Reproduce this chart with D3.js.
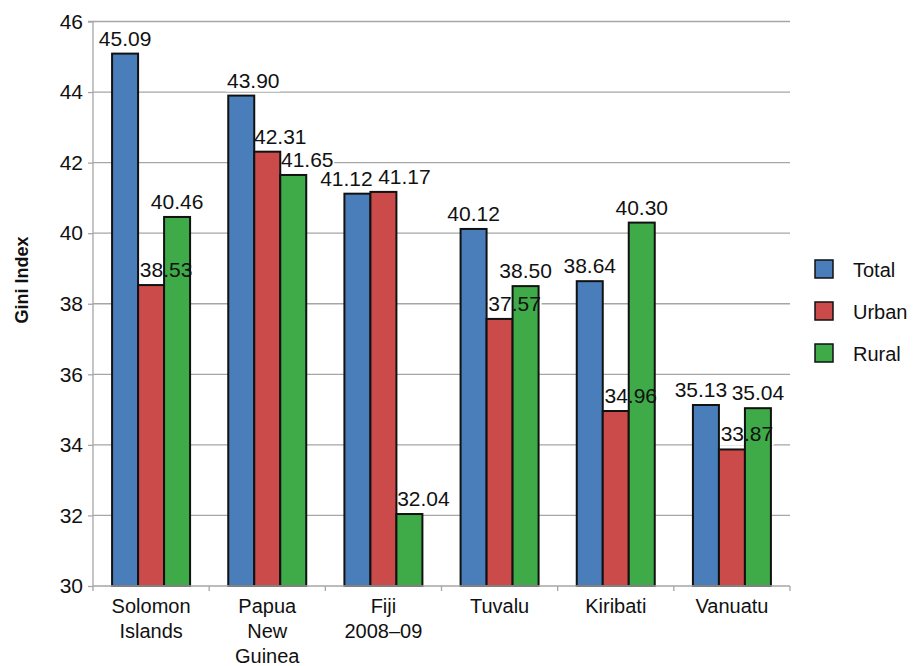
<!DOCTYPE html>
<html>
<head>
<meta charset="utf-8">
<script src="https://cdn.jsdelivr.net/npm/d3@7/dist/d3.min.js"></script>
<style>
  html, body { margin: 0; padding: 0; background: #fff; }
  svg { display: block; font-family: "Liberation Sans", Arial, Helvetica, sans-serif; }
</style>
</head>
<body>
<svg id="chart" width="914" height="666"></svg>
<script>
// Gini index by country, split into total / urban / rural
const categories = [
  ["Solomon", "Islands"],
  ["Papua", "New", "Guinea"],
  ["Fiji", "2008\u201309"],
  ["Tuvalu"],
  ["Kiribati"],
  ["Vanuatu"]
];
const seriesNames = ["Total", "Urban", "Rural"];
const totalValues = [45.09, 43.90, 41.12, 40.12, 38.64, 35.13];
const urbanValues = [38.53, 42.31, 41.17, 37.57, 34.96, 33.87];
const ruralValues = [40.46, 41.65, 32.04, 38.50, 40.30, 35.04];
const yTicks = [30, 32, 34, 36, 38, 40, 42, 44, 46];

// horizontal nudges that keep neighbouring value labels apart
const labelNudge = {
  Total: [0, 12, -11, 0, 0, -5],
  Urban: [15, 13, 21, 15, 15, 15],
  Rural: [0, 14, 14, 0, 0, 0]
};

const colors = { Total: "#4a7ebb", Urban: "#cb4b4a", Rural: "#3eab48" };
const valuesBySeries = { Total: totalValues, Urban: urbanValues, Rural: ruralValues };

const svg = d3.select("#chart");
const plot = { left: 93, right: 790, top: 21.5, bottom: 586 };

const keys = categories.map(c => c.join(" "));
const x0 = d3.scaleBand().domain(keys).range([plot.left, plot.right]).paddingInner(0).paddingOuter(0);
const x1 = d3.scaleBand().domain(seriesNames).range([0, x0.bandwidth()]).paddingInner(0).paddingOuter(0.734);
const y = d3.scaleLinear().domain([30, 46]).range([plot.bottom, plot.top]);

const grey = "#a6a6a6";

// gridlines
svg.append("g")
  .selectAll("line")
  .data(yTicks.filter(t => t !== 30))
  .join("line")
  .attr("x1", plot.left).attr("x2", plot.right)
  .attr("y1", d => y(d)).attr("y2", d => y(d))
  .attr("stroke", grey).attr("stroke-width", 1.3);

// flattened records for bars and labels
const records = [];
keys.forEach((k, i) => {
  seriesNames.forEach(s => {
    records.push({ key: k, i, series: s, value: valuesBySeries[s][i] });
  });
});

const fontSize = 21;
const labelX = d => x0(d.key) + x1(d.series) + x1.bandwidth() / 2 + labelNudge[d.series][d.i];
const labelY = d => y(d.value) - 8;

// white backing boxes behind the value labels (hide the gridlines)
svg.append("g")
  .selectAll("rect")
  .data(records)
  .join("rect")
  .attr("x", d => labelX(d) - 27)
  .attr("y", d => labelY(d) - 16)
  .attr("width", 54)
  .attr("height", 20)
  .attr("fill", "#fff");

// bars
svg.append("g")
  .selectAll("rect")
  .data(records)
  .join("rect")
  .attr("x", d => x0(d.key) + x1(d.series))
  .attr("y", d => y(d.value))
  .attr("width", x1.bandwidth())
  .attr("height", d => y(30) - y(d.value))
  .attr("fill", d => colors[d.series])
  .attr("stroke", "#111")
  .attr("stroke-width", 2);

// value labels
svg.append("g")
  .selectAll("text")
  .data(records)
  .join("text")
  .attr("x", labelX)
  .attr("y", labelY)
  .attr("text-anchor", "middle")
  .attr("font-size", fontSize)
  .attr("fill", "#111")
  .text(d => d.value.toFixed(2));

// y axis
const yAxis = d3.axisLeft(y).tickValues(yTicks).tickSize(5).tickPadding(5).tickFormat(d3.format("d"));
const gy = svg.append("g").attr("transform", `translate(${plot.left},0)`).call(yAxis);
gy.select(".domain").attr("stroke", grey).attr("stroke-width", 1.3)
  .attr("d", `M-5,${plot.top}H0V${plot.bottom + 5}`);
gy.selectAll(".tick line").attr("stroke", grey).attr("stroke-width", 1.3);
gy.selectAll(".tick text").attr("font-size", 21).attr("fill", "#111")
  .attr("font-family", "Liberation Sans, Arial, sans-serif");

// x axis baseline and category separators
const gx = svg.append("g");
gx.append("line")
  .attr("x1", plot.left).attr("x2", plot.right)
  .attr("y1", plot.bottom).attr("y2", plot.bottom)
  .attr("stroke", grey).attr("stroke-width", 1.3);
gx.selectAll("line.sep")
  .data(keys.map(k => x0(k) + x0.bandwidth()))
  .join("line")
  .attr("class", "sep")
  .attr("x1", d => d).attr("x2", d => d)
  .attr("y1", plot.bottom).attr("y2", plot.bottom + 5)
  .attr("stroke", grey).attr("stroke-width", 1.3);

// category labels, one line per tspan
const catText = gx.selectAll("text.cat")
  .data(categories)
  .join("text")
  .attr("class", "cat")
  .attr("text-anchor", "middle")
  .attr("font-size", 20)
  .attr("fill", "#111")
  .attr("transform", (d, i) => `translate(${x0(keys[i]) + x0.bandwidth() / 2},613)`);
catText.selectAll("tspan")
  .data(d => d)
  .join("tspan")
  .attr("x", 0)
  .attr("y", (d, j) => j * 25)
  .text(d => d);

// y axis title
svg.append("text")
  .attr("transform", "translate(28,280) rotate(-90)")
  .attr("text-anchor", "middle")
  .attr("font-size", 18)
  .attr("font-weight", "bold")
  .attr("fill", "#111")
  .text("Gini Index");

// legend
const legend = svg.append("g").attr("transform", "translate(815,260)");
const li = legend.selectAll("g")
  .data(seriesNames)
  .join("g")
  .attr("transform", (d, i) => `translate(0,${i * 42})`);
li.append("rect")
  .attr("width", 18).attr("height", 18)
  .attr("fill", d => colors[d])
  .attr("stroke", "#111").attr("stroke-width", 1.5);
li.append("text")
  .attr("x", 38).attr("y", 17)
  .attr("font-size", 20)
  .attr("fill", "#111")
  .text(d => d);
</script>
</body>
</html>
